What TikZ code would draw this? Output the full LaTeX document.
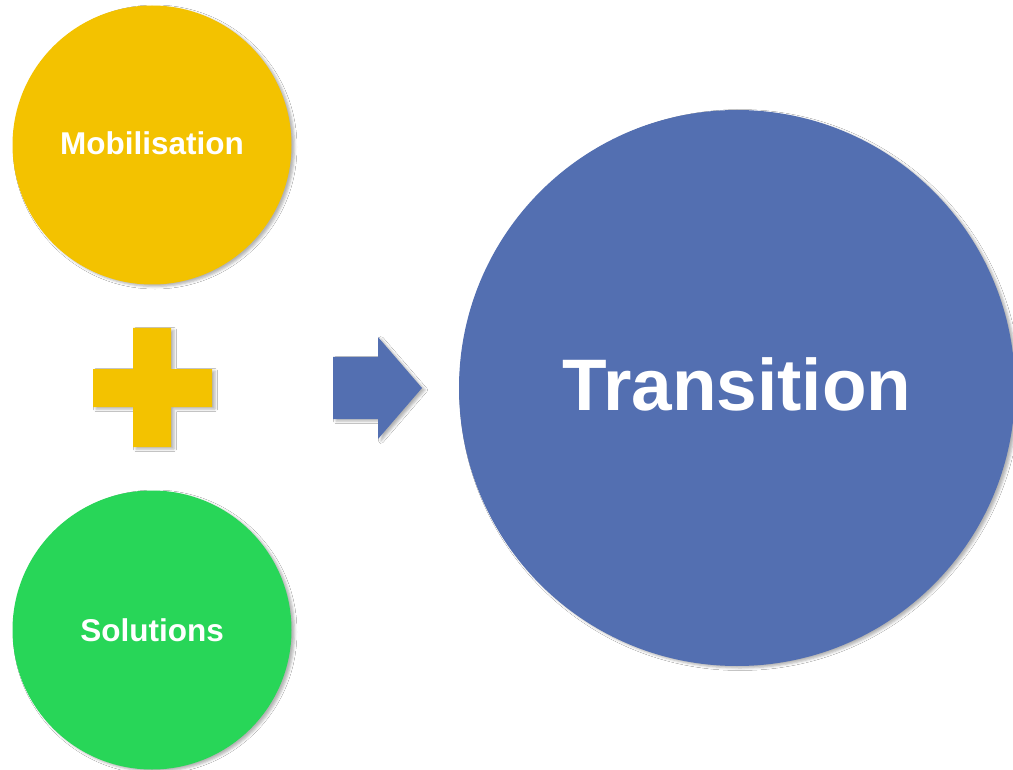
\documentclass[tikz,border=0pt]{standalone}
\usepackage{fontspec}
\setmainfont{Liberation Sans}
\usetikzlibrary{shadows.blur}
\definecolor{mobyellow}{RGB}{243,194,0}
\definecolor{solgreen}{RGB}{40,214,88}
\definecolor{transblue}{RGB}{83,111,177}
\tikzset{
  soft/.style={blur shadow={shadow xshift=3pt, shadow yshift=-2pt, shadow blur radius=2.5pt, shadow opacity=30}},
  bubble/.style={circle, draw=none, soft, inner sep=0pt},
  smalllabel/.style={text=white, font=\bfseries\fontsize{31.5}{36}\selectfont},
  biglabel/.style={text=white, font=\bfseries\fontsize{73}{80}\selectfont},
}
\begin{document}
\begin{tikzpicture}[x=1pt, y=-1pt]
  \fill[white] (0,0) rectangle (1013,770);
  \useasboundingbox (0,0) rectangle (1013,770);

  % the two ingredients
  \node[bubble, fill=mobyellow, minimum size=279pt] (mob) at (152,145) {};
  \node[smalllabel] (moblabel) at ([yshift=1.5pt]mob.center) {Mobilisation};
  \node[bubble, fill=solgreen, minimum size=279pt] (sol) at (152,630) {};
  \node[smalllabel] (sollabel) at (sol.center) {Solutions};

  % plus sign between them
  \fill[mobyellow, soft] (133,328) -- (171,328) -- (171,369) -- (212,369) -- (212,407)
    -- (171,407) -- (171,447) -- (133,447) -- (133,407) -- (93,407) -- (93,369)
    -- (133,369) -- cycle;

  % block arrow towards the result
  \fill[transblue, soft] (333,357) -- (378,357) -- (378,337) -- (422,388) -- (378,439)
    -- (378,419) -- (333,419) -- cycle;

  % the result
  \node[bubble, fill=transblue, minimum size=556pt] (trans) at (737,388) {};
  \node[biglabel] (translabel) at ([yshift=3.5pt]trans.center) {Transition};
\end{tikzpicture}
\end{document}
